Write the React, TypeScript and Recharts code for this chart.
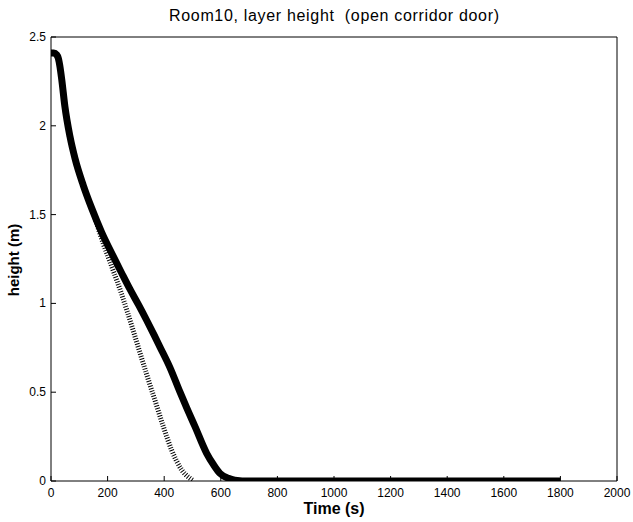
import React from "react";
import { LineChart, Line, XAxis, YAxis } from "recharts";

const solidTime = [0, 10, 20, 26, 32, 38, 49, 67, 85, 114, 144, 179, 220, 250, 279, 310, 338, 365, 385, 420, 456, 480, 509, 550, 575, 597, 627, 650, 700, 1000, 1400, 1800];
const solidHeight = [2.41, 2.41, 2.4, 2.38, 2.33, 2.26, 2.11, 1.94, 1.815, 1.665, 1.535, 1.4, 1.265, 1.17, 1.08, 0.99, 0.905, 0.82, 0.755, 0.64, 0.5, 0.41, 0.306, 0.156, 0.09, 0.043, 0.015, 0.005, 0, 0, 0, 0];

const dashedTime = [150, 184, 214, 250, 286, 311, 340, 367, 397, 426, 462, 491, 500];
const dashedHeight = [1.51, 1.34, 1.21, 1.05, 0.87, 0.74, 0.59, 0.456, 0.306, 0.175, 0.062, 0.015, 0.005];

const xTicks = [0, 200, 400, 600, 800, 1000, 1200, 1400, 1600, 1800, 2000];
const yTicks = [0, 0.5, 1, 1.5, 2, 2.5];

const title = "Room10, layer height  (open corridor door)";
const xLabel = "Time (s)";
const yLabel = "height (m)";

const solidData = solidTime.map((t, i) => ({ t, h: solidHeight[i] }));
const dashedData = dashedTime.map((t, i) => ({ t, h: dashedHeight[i] }));

const FONT = "'Liberation Sans', Arial, sans-serif";

const BottomTick = (props: any) => {
  const { x, y, payload } = props;
  return (
    <g>
      <line x1={x} y1={y} x2={x} y2={y - 5} stroke="#000" strokeWidth={1} />
      <text x={x} y={y + 16} textAnchor="middle" fontSize={12} fontFamily={FONT} fill="#000">
        {payload.value}
      </text>
    </g>
  );
};
const TopTick = (props: any) => {
  const { x, y } = props;
  return <line x1={x} y1={y} x2={x} y2={y + 5} stroke="#000" strokeWidth={1} />;
};
const LeftTick = (props: any) => {
  const { x, y, payload } = props;
  return (
    <g>
      <line x1={x} y1={y} x2={x + 5} y2={y} stroke="#000" strokeWidth={1} />
      <text x={x - 5} y={y + 4} textAnchor="end" fontSize={12} fontFamily={FONT} fill="#000">
        {payload.value}
      </text>
    </g>
  );
};
const RightTick = (props: any) => {
  const { x, y } = props;
  return <line x1={x} y1={y} x2={x - 5} y2={y} stroke="#000" strokeWidth={1} />;
};

export default function App() {
  return (
    <div style={{ position: "absolute", left: 0, top: 0, width: 633, height: 522, background: "#fff" }}>
      <LineChart width={633} height={522} margin={{ top: 27, right: 6, bottom: 11, left: 21 }}>
        <XAxis
          xAxisId="b"
          dataKey="t"
          type="number"
          domain={[0, 2000]}
          ticks={xTicks}
          orientation="bottom"
          height={30}
          tickSize={0}
          tickMargin={0}
          tick={<BottomTick />}
          axisLine={{ stroke: "#000", strokeWidth: 1 }}
          tickLine={false}
          interval={0}
          allowDataOverflow
        />
        <XAxis
          xAxisId="t"
          type="number"
          domain={[0, 2000]}
          ticks={xTicks}
          orientation="top"
          height={10}
          tickSize={0}
          tickMargin={0}
          tick={<TopTick />}
          axisLine={{ stroke: "#000", strokeWidth: 1 }}
          tickLine={false}
          interval={0}
        />
        <YAxis
          yAxisId="l"
          type="number"
          domain={[0, 2.5]}
          ticks={yTicks}
          orientation="left"
          width={30}
          tickSize={0}
          tickMargin={0}
          tick={<LeftTick />}
          axisLine={{ stroke: "#000", strokeWidth: 1 }}
          tickLine={false}
          interval={0}
          allowDataOverflow
        />
        <YAxis
          yAxisId="r"
          type="number"
          domain={[0, 2.5]}
          ticks={yTicks}
          orientation="right"
          width={10}
          tickSize={0}
          tickMargin={0}
          tick={<RightTick />}
          axisLine={{ stroke: "#000", strokeWidth: 1 }}
          tickLine={false}
          interval={0}
        />
        <Line
          xAxisId="b"
          yAxisId="l"
          data={dashedData}
          dataKey="h"
          type="monotone"
          stroke="#000"
          strokeWidth={5}
          strokeDasharray="1 1.6"
          dot={false}
          isAnimationActive={false}
        />
        <Line
          xAxisId="b"
          yAxisId="l"
          data={solidData}
          dataKey="h"
          type="monotone"
          stroke="#000"
          strokeWidth={7}
          strokeLinejoin="round"
          dot={false}
          isAnimationActive={false}
        />
        <text x={334} y={21} textAnchor="middle" fontSize={16} fontFamily={FONT} fill="#000" textLength={330} lengthAdjust="spacing" style={{ whiteSpace: "pre" }}>
          {title}
        </text>
        <text x={334} y={514} textAnchor="middle" fontSize={16} fontWeight="bold" fontFamily={FONT} fill="#000">
          {xLabel}
        </text>
        <text
          x={19}
          y={260}
          textAnchor="middle"
          fontSize={15}
          fontWeight="bold"
          fontFamily={FONT}
          fill="#000"
          transform="rotate(-90 19 260)"
        >
          {yLabel}
        </text>
      </LineChart>
    </div>
  );
}
